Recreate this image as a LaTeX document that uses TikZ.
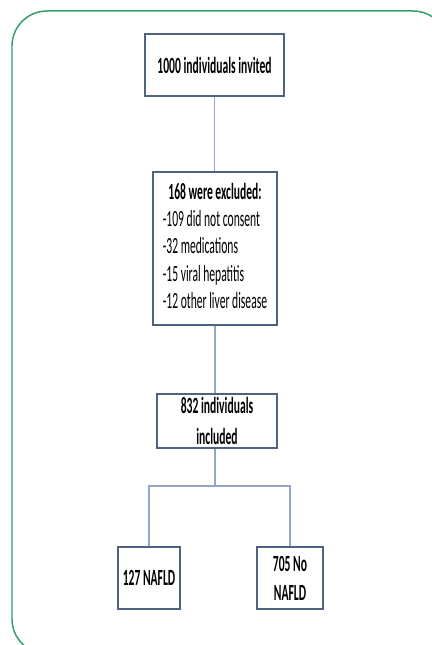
\documentclass[tikz,border=0pt]{standalone}
\usepackage{fontspec}
\setmainfont{Carlito}[FakeStretch=0.5]
\usepackage{xcolor}
\usepackage{tikz}
\usetikzlibrary{positioning, shadows}
\definecolor{boxedge}{HTML}{4F6282}
\definecolor{linkline}{HTML}{94A6C4}
\definecolor{framegreen}{HTML}{35A06B}
\tikzset{
  flowbox/.style={draw=boxedge, line width=1.2pt, fill=white, inner sep=0pt,
    align=center, font=\fontsize{13.2}{15.6}\selectfont,
    drop shadow={shadow xshift=0.6pt, shadow yshift=-0.8pt, opacity=0.25}},
  link/.style={draw=linkline, line width=0.6pt}
}

\begin{document}
\begin{tikzpicture}
        \useasboundingbox (0,0) rectangle (8.64,12.9);
        \begin{scope}
          \clip (0,0) rectangle (8.64,12.9);
          \draw[framegreen, line width=0.85pt, rounded corners=0.7cm] (0.24,-0.18) rectangle (8.96,12.68);
        \end{scope}
        \node[flowbox, minimum width=2.78cm, minimum height=1.24cm] (invited) at (4.29,11.6)
          {\bfseries 1000 individuals invited};
        \node[flowbox, minimum width=2.48cm, minimum height=3.06cm] (excluded) at (4.30,7.93)
          {\begin{tabular}{@{}l@{}}
             \multicolumn{1}{@{}c@{}}{\bfseries 168 were excluded:}\\
             -109 did not consent\\
             -32 medications\\
             -15 viral hepatitis\\
             -12 other liver disease
           \end{tabular}};
        \node[flowbox, minimum width=2.40cm, minimum height=1.08cm] (included) at (4.34,4.48)
          {\bfseries 832 individuals\\[2pt] \bfseries included};
        \node[flowbox, minimum width=1.24cm, minimum height=1.24cm] (nafld) at (2.98,1.34)
          {\bfseries 127 NAFLD};
        \node[flowbox, minimum width=1.32cm, minimum height=1.24cm] (nonafld) at (5.80,1.34)
          {\bfseries 705 No\\[1pt] \bfseries NAFLD};
        \coordinate (split) at (4.30,3.18);
        \draw[link] (invited.south) -- (invited.south |- excluded.north);
        \draw[link] (excluded.south) -- (excluded.south |- included.north);
        \draw[link] (included.south -| split) -- (split);
        \draw[link] (nafld.north) |- (split) -| (nonafld.north);
      \end{tikzpicture}
\end{document}
